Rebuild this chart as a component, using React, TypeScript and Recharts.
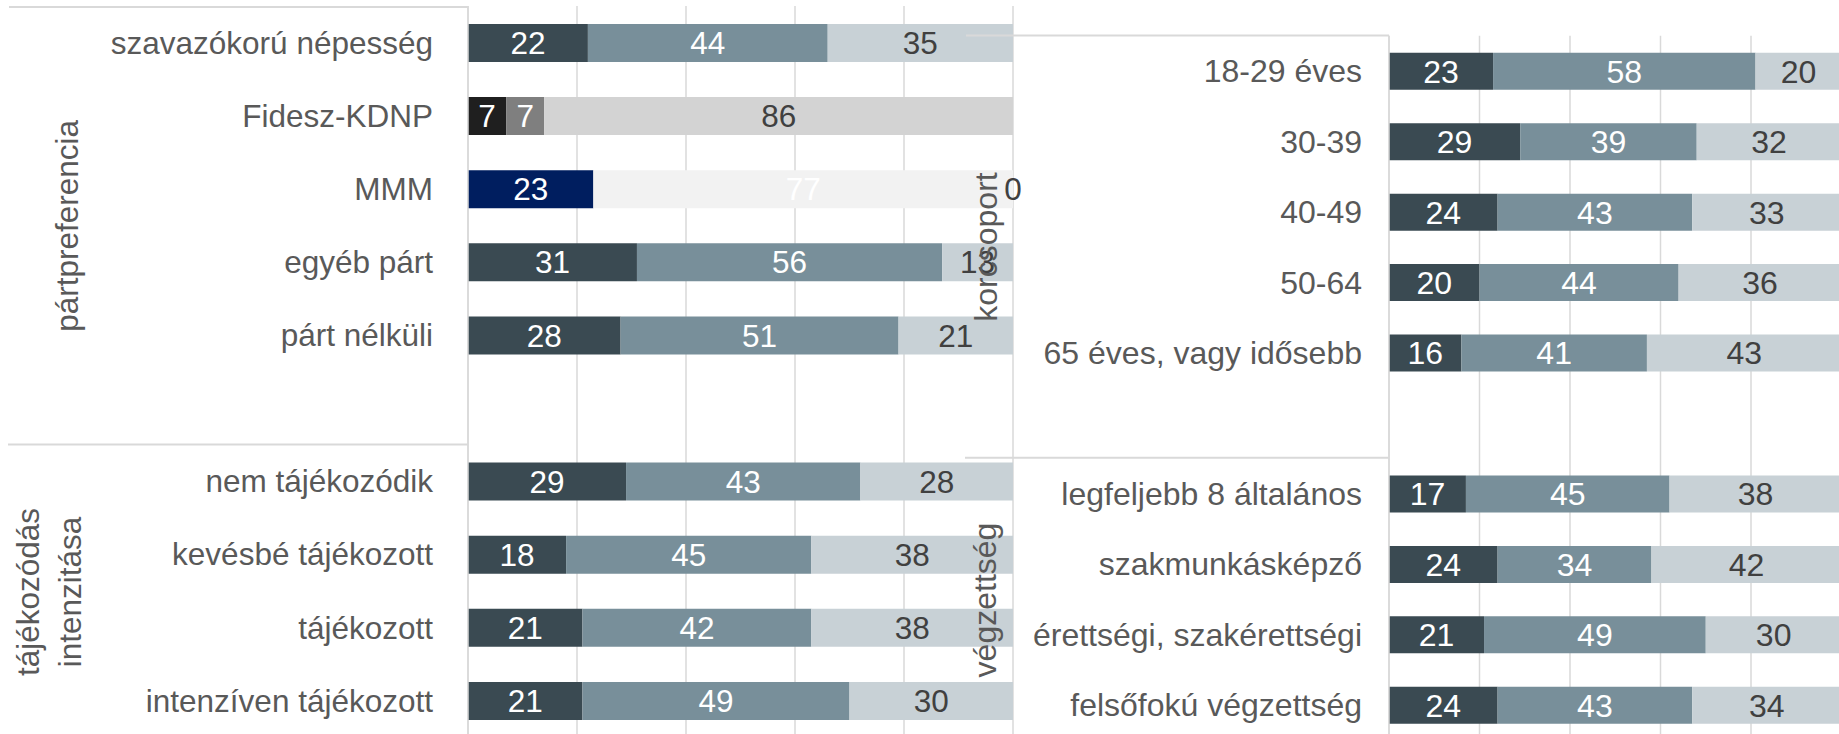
import React from 'react';
import { BarChart, Bar, XAxis, YAxis, CartesianGrid, LabelList, Cell } from 'recharts';

// ---------- DATA ----------
const leftCategories = [
  'szavazókorú népesség',
  'Fidesz-KDNP',
  'MMM',
  'egyéb párt',
  'párt nélküli',
  '',
  'nem tájékozódik',
  'kevésbé tájékozott',
  'tájékozott',
  'intenzíven tájékozott',
];
const leftSeg1 = [22, 7, 23, 31, 28, null, 29, 18, 21, 21];
const leftSeg2 = [44, 7, 77, 56, 51, null, 43, 45, 42, 49];
const leftSeg3 = [35, 86, 0, 13, 21, null, 28, 38, 38, 30];

const rightCategories = [
  '18-29 éves',
  '30-39',
  '40-49',
  '50-64',
  '65 éves, vagy idősebb',
  '',
  'legfeljebb 8 általános',
  'szakmunkásképző',
  'érettségi, szakérettségi',
  'felsőfokú végzettség',
];
const rightSeg1 = [23, 29, 24, 20, 16, null, 17, 24, 21, 24];
const rightSeg2 = [58, 39, 43, 44, 41, null, 45, 34, 49, 43];
const rightSeg3 = [20, 32, 33, 36, 43, null, 38, 42, 30, 34];

const leftGroupTitles = [['pártpreferencia'], ['tájékozódás', 'intenzitása']];
const rightGroupTitles = [['korcsoport'], ['végzettség']];

const xTicks = [0, 20, 40, 60, 80, 100];

// ---------- STYLE ----------
const FONT = '"Liberation Sans", Arial, Helvetica, sans-serif';
const SERIES_COLORS = ['#3A4A52', '#788F9A', '#C8D1D6'];
const SPECIAL_COLORS: Record<string, string[]> = {
  'Fidesz-KDNP': ['#1F1F1F', '#7F7F7F', '#D3D3D3'],
  MMM: ['#001E5F', '#F2F2F2', '#F2F2F2'],
};
const LABEL_FILLS = ['#FFFFFF', '#FFFFFF', '#404040'];
const TEXT_GRAY = '#595959';
const GRID = '#D9D9D9';

const buildRows = (cats: string[], a: (number | null)[], b: (number | null)[], c: (number | null)[]) =>
  cats.map((name, i) => ({ name, s1: a[i], s2: b[i], s3: c[i] }));

const leftRows = buildRows(leftCategories, leftSeg1, leftSeg2, leftSeg3);
const rightRows = buildRows(rightCategories, rightSeg1, rightSeg2, rightSeg3);

const keys = ['s1', 's2', 's3'];

const makeLabel = (rows: any[], si: number, fs: number) => (props: any) => {
  const { x, y, width, height, value, index } = props;
  if (value === null || value === undefined || Number.isNaN(Number(x))) return null;
  const nx = Number(x);
  const ny = Number(y);
  const w = Number(width);
  const h = Number(height);
  const row = typeof index === 'number' ? rows[index] : undefined;
  // a zero-valued following segment has no width of its own: its label sits at this segment's end
  const nextKey = keys[si + 1];
  const zeroNext = row && nextKey && row[nextKey] === 0;
  return (
    <g>
      {w > 0 || value !== 0 ? (
        <text
          x={nx + w / 2}
          y={ny + h / 2}
          dy="0.355em"
          textAnchor="middle"
          fill={LABEL_FILLS[si]}
          fontSize={fs}
          fontFamily={FONT}
        >
          {value}
        </text>
      ) : null}
      {zeroNext ? (
        <text
          x={nx + w}
          y={ny + h / 2}
          dy="0.355em"
          textAnchor="middle"
          fill={LABEL_FILLS[si + 1]}
          fontSize={fs}
          fontFamily={FONT}
        >
          {row[nextKey]}
        </text>
      ) : null}
    </g>
  );
};

const makeTick = (fs: number) => (props: any) => {
  const { x, y, payload } = props;
  return (
    <text x={x} y={y} dy="0.355em" textAnchor="end" fill={TEXT_GRAY} fontSize={fs} fontFamily={FONT}>
      {payload.value}
    </text>
  );
};

type PanelProps = {
  rows: any[];
  width: number;
  height: number;
  margin: { top: number; right: number; bottom: number; left: number };
  yAxisWidth: number;
  tickGap: number;
  barSize: number;
  fs: number;
};

const Panel = ({ rows, width, height, margin, yAxisWidth, tickGap, barSize, fs }: PanelProps) => (
  <BarChart width={width} height={height} data={rows} layout="vertical" margin={margin}>
    <CartesianGrid horizontal={false} vertical stroke={GRID} strokeWidth={1.5} />
    <XAxis
      type="number"
      domain={[0, 100]}
      ticks={xTicks}
      interval={0}
      allowDataOverflow
      height={0}
      tick={{ fontSize: 1, fill: 'transparent' }}
      axisLine={false}
      tickLine={false}
    />
    <YAxis
      type="category"
      dataKey="name"
      width={yAxisWidth}
      tickSize={0}
      tickMargin={tickGap}
      tickLine={false}
      axisLine={{ stroke: GRID, strokeWidth: 1.5 }}
      interval={0}
      tick={makeTick(fs)}
    />
    {keys.map((k, si) => (
      <Bar key={k} dataKey={k} stackId="a" barSize={barSize} isAnimationActive={false} fill={SERIES_COLORS[si]}>
        {rows.map((r, i) => (
          <Cell key={i} fill={SPECIAL_COLORS[r.name] ? SPECIAL_COLORS[r.name][si] : SERIES_COLORS[si]} />
        ))}
        <LabelList dataKey={k} content={makeLabel(rows, si, fs)} />
      </Bar>
    ))}
  </BarChart>
);

const GroupTitle = ({ lines, baselines, cy, fs }: { lines: string[]; baselines: number[]; cy: number; fs: number }) => (
  <>
    {lines.map((t, i) => (
      <text
        key={i}
        transform={`translate(${baselines[i]},${cy}) rotate(-90)`}
        textAnchor="middle"
        fill={TEXT_GRAY}
        fontSize={fs}
        fontFamily={FONT}
      >
        {t}
      </text>
    ))}
  </>
);

export default function App() {
  return (
    <div
      style={{
        position: 'absolute',
        left: 0,
        top: 0,
        width: 1839,
        height: 734,
        overflow: 'hidden',
        background: '#FFFFFF',
      }}
    >
      <div style={{ position: 'absolute', left: 0, top: 0 }}>
        <Panel
          rows={leftRows}
          width={1040}
          height={740}
          margin={{ top: 6, right: 27, bottom: 3, left: 0 }}
          yAxisWidth={468}
          tickGap={35}
          barSize={38}
          fs={31.5}
        />
      </div>
      <div style={{ position: 'absolute', left: 960, top: 0 }}>
        <Panel
          rows={rightRows}
          width={900}
          height={745}
          margin={{ top: 35.8, right: 18.5, bottom: 4.8, left: 0 }}
          yAxisWidth={429}
          tickGap={27}
          barSize={37}
          fs={32}
        />
      </div>
      <svg
        width={1839}
        height={734}
        style={{ position: 'absolute', left: 0, top: 0, pointerEvents: 'none' }}
      >
        <line x1={9} y1={7} x2={468} y2={7} stroke={GRID} strokeWidth={2} />
        <line x1={8} y1={444.5} x2={468} y2={444.5} stroke={GRID} strokeWidth={2} />
        <line x1={966} y1={35.5} x2={1389} y2={35.5} stroke={GRID} strokeWidth={2} />
        <line x1={965} y1={457.7} x2={1389} y2={457.7} stroke={GRID} strokeWidth={2} />
        <GroupTitle lines={leftGroupTitles[0]} baselines={[77.5]} cy={225.8} fs={31.5} />
        <GroupTitle lines={leftGroupTitles[1]} baselines={[38.5, 80.5]} cy={592} fs={31.5} />
        <GroupTitle lines={rightGroupTitles[0]} baselines={[996.5]} cy={247} fs={32} />
        <GroupTitle lines={rightGroupTitles[1]} baselines={[995.5]} cy={600} fs={32} />
      </svg>
    </div>
  );
}
